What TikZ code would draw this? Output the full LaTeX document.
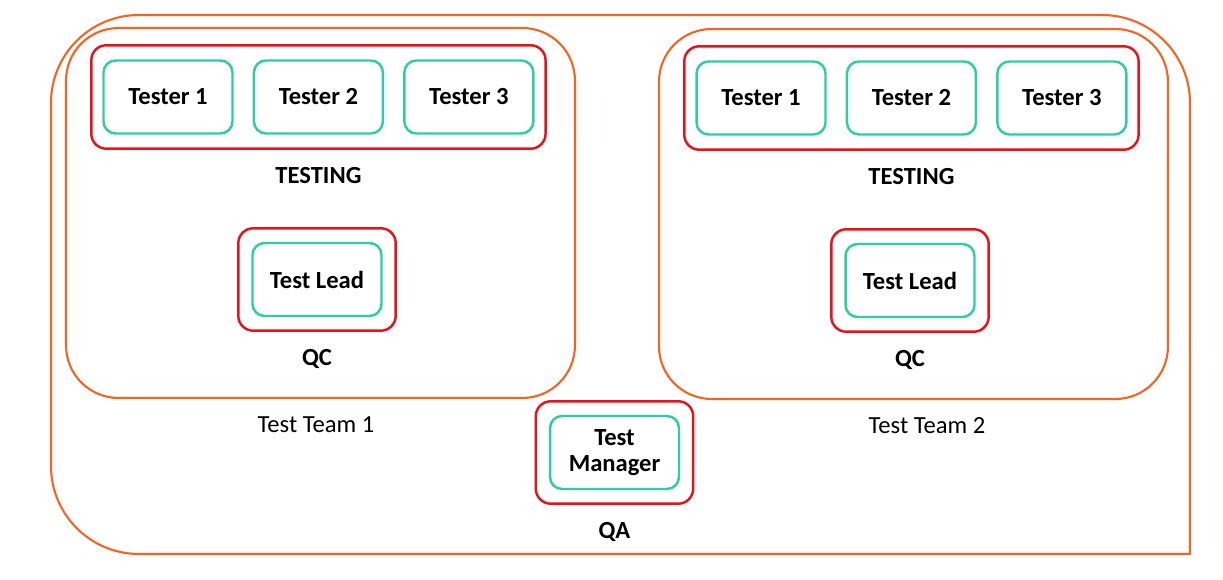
\documentclass[tikz,border=0pt]{standalone}
\usepackage{fontspec}
\setmainfont{Carlito}
\usetikzlibrary{positioning, fit}

\definecolor{frameorange}{RGB}{242,101,34}
\definecolor{groupred}{RGB}{232,18,28}
\definecolor{rolegreen}{RGB}{46,206,162}

\begin{document}
\begin{tikzpicture}[
    x=0.02cm, y=-0.02cm,
    font=\fontsize{14}{14.5}\selectfont,
    node distance=0.38cm,
    rolebox/.style={rectangle, draw=rolegreen, line width=1.4pt, rounded corners=0.24cm, minimum width=2.58cm, minimum height=1.46cm, font=\fontsize{14}{14.5}\selectfont\bfseries, align=center},
    groupbox/.style={rectangle, draw=groupred, line width=1.4pt, rounded corners=0.3cm, inner xsep=0.22cm, inner ysep=0.28cm},
    teambox/.style={rectangle, draw=frameorange, line width=1.2pt, rounded corners=1.05cm, minimum width=10.18cm, minimum height=7.4cm},
    grouplabel/.style={font=\fontsize{14}{14.5}\selectfont\bfseries},
    teamlabel/.style={font=\fontsize{14}{14.5}\selectfont}
]
\useasboundingbox (0,0) rectangle (1223,580);

% Outer QA frame (bottom right corner is square)
\draw[frameorange, line width=1.2pt] (1190,554) -- (600,554) [rounded corners=1.76cm] -- (51,554) -- (51,15) -- (1190,15) -- (1190,300) [sharp corners] -- cycle;

% Team boxes
\node[teambox] (team1) at (320.5,213) {};
\node[teambox] (team2) at (913.5,214) {};
\node[teamlabel, below=0.52cm of team1, anchor=center, xshift=-0.09cm] (team1_label) {Test Team 1};
\node[teamlabel, below=0.52cm of team2, anchor=center, xshift=0.27cm] (team2_label) {Test Team 2};

% Testing groups
\node[rolebox] (tester11) at (168,97) {Tester 1};
\node[rolebox, right=of tester11] (tester12) {Tester 2};
\node[rolebox, right=of tester12] (tester13) {Tester 3};
\node[groupbox, fit=(tester11) (tester13)] (testing1) {};
\node[grouplabel, below=0.52cm of testing1, anchor=center] (testing1_label) {TESTING};

\node[rolebox] (tester21) at (761,98) {Tester 1};
\node[rolebox, right=of tester21] (tester22) {Tester 2};
\node[rolebox, right=of tester22] (tester23) {Tester 3};
\node[groupbox, fit=(tester21) (tester23)] (testing2) {};
\node[grouplabel, below=0.52cm of testing2, anchor=center] (testing2_label) {TESTING};

% QC groups
\node[rolebox] (lead1) at (317,279.5) {Test Lead};
\node[groupbox, fit=(lead1), inner xsep=0.26cm, inner ysep=0.27cm] (qc1) {};
\node[grouplabel, below=0.54cm of qc1, anchor=center] (qc1_label) {QC};

\node[rolebox] (lead2) at (910,280.5) {Test Lead};
\node[groupbox, fit=(lead2), inner xsep=0.26cm, inner ysep=0.27cm] (qc2) {};
\node[grouplabel, below=0.54cm of qc2, anchor=center] (qc2_label) {QC};

% QA group
\node[rolebox] (manager) at (614.5,452.5) {Test\\Manager};
\node[groupbox, fit=(manager), inner xsep=0.26cm, inner ysep=0.27cm] (qa) {};
\node[grouplabel, below=0.55cm of qa, anchor=center] (qa_label) {QA};

\end{tikzpicture}
\end{document}
